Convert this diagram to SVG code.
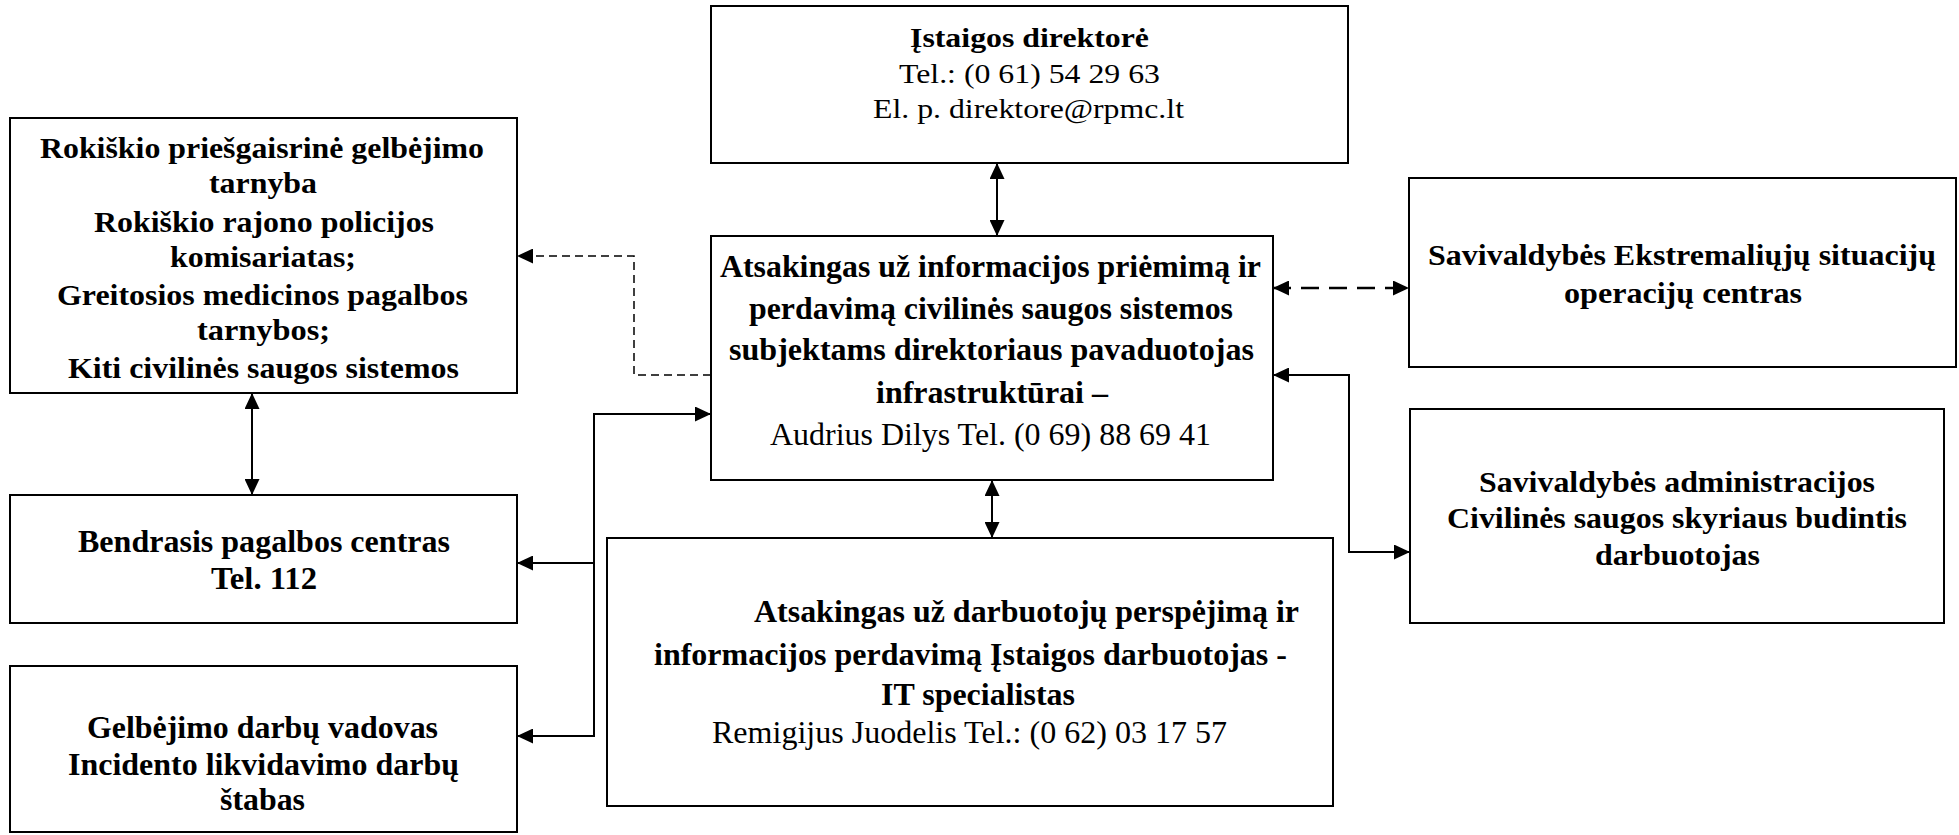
<svg xmlns="http://www.w3.org/2000/svg" width="1959" height="835" viewBox="0 0 1959 835">
<style>
.box{fill:#fff;stroke:#000;stroke-width:2}
.b{font-family:"Liberation Serif","Times New Roman",serif;font-weight:bold;fill:#000}
.r{font-family:"Liberation Serif","Times New Roman",serif;font-weight:normal;fill:#000}
.f24{font-size:28px}
.f26{font-size:30px}
.f27{font-size:31px}
.c{fill:none;stroke:#000;stroke-width:2}
.d1{fill:none;stroke:#000;stroke-width:1.5;stroke-dasharray:8 5}
.d2{fill:none;stroke:#000;stroke-width:2.5;stroke-dasharray:18 10}
</style>
<defs>
<marker id="ah" viewBox="0 0 10 10" refX="10" refY="5" markerUnits="userSpaceOnUse" markerWidth="16" markerHeight="15" preserveAspectRatio="none" orient="auto-start-reverse">
<path d="M0,0 L10,5 L0,10 z" fill="#000"/>
</marker>
</defs>

<g id="connectors">
<line class="c" x1="997" y1="163" x2="997" y2="236" marker-start="url(#ah)" marker-end="url(#ah)"/>
<line class="c" x1="992" y1="480" x2="992" y2="538" marker-start="url(#ah)" marker-end="url(#ah)"/>
<line class="c" x1="252" y1="393" x2="252" y2="495" marker-start="url(#ah)" marker-end="url(#ah)"/>
<path class="d1" d="M711,375 H634 V256 H517" marker-end="url(#ah)"/>
<path class="c" d="M594,414 H711" marker-end="url(#ah)"/>
<line class="c" x1="594" y1="413" x2="594" y2="737"/>
<path class="c" d="M594,563 H517" marker-end="url(#ah)"/>
<path class="c" d="M594,736 H517" marker-end="url(#ah)"/>
<line class="d2" x1="1273" y1="288" x2="1409" y2="288" marker-start="url(#ah)" marker-end="url(#ah)"/>
<path class="c" d="M1273,375 H1349 V552 H1410" marker-start="url(#ah)" marker-end="url(#ah)"/>
</g>

<g id="director">
<rect class="box" x="711" y="6" width="637" height="157"/>
<text class="b f24" x="910" y="47" textLength="239" lengthAdjust="spacingAndGlyphs">Įstaigos direktorė</text>
<text class="r f24" x="899" y="83" textLength="261" lengthAdjust="spacingAndGlyphs">Tel.: (0 61) 54 29 63</text>
<text class="r f24" x="873" y="118" textLength="311" lengthAdjust="spacingAndGlyphs">El. p. direktore@rpmc.lt</text>
</g>

<g id="responsible-center">
<rect class="box" x="711" y="236" width="562" height="244"/>
<text class="b f27" x="720" y="277" textLength="541" lengthAdjust="spacingAndGlyphs">Atsakingas už informacijos priėmimą ir</text>
<text class="b f27" x="749" y="319" textLength="484" lengthAdjust="spacingAndGlyphs">perdavimą civilinės saugos sistemos</text>
<text class="b f27" x="729" y="360" textLength="525" lengthAdjust="spacingAndGlyphs">subjektams direktoriaus pavaduotojas</text>
<text class="b f27" x="876" y="403" textLength="232" lengthAdjust="spacingAndGlyphs">infrastruktūrai –</text>
<text class="r f27" x="770" y="445" textLength="441" lengthAdjust="spacingAndGlyphs">Audrius Dilys Tel. (0 69) 88 69 41</text>
</g>

<g id="rescue-services">
<rect class="box" x="10" y="118" width="507" height="275"/>
<text class="b f26" x="40" y="158" textLength="444" lengthAdjust="spacingAndGlyphs">Rokiškio priešgaisrinė gelbėjimo</text>
<text class="b f26" x="209" y="193" textLength="108" lengthAdjust="spacingAndGlyphs">tarnyba</text>
<text class="b f26" x="94" y="232" textLength="340" lengthAdjust="spacingAndGlyphs">Rokiškio rajono policijos</text>
<text class="b f26" x="170" y="267" textLength="186" lengthAdjust="spacingAndGlyphs">komisariatas;</text>
<text class="b f26" x="57" y="305" textLength="411" lengthAdjust="spacingAndGlyphs">Greitosios medicinos pagalbos</text>
<text class="b f26" x="197" y="340" textLength="133" lengthAdjust="spacingAndGlyphs">tarnybos;</text>
<text class="b f26" x="68" y="378" textLength="391" lengthAdjust="spacingAndGlyphs">Kiti civilinės saugos sistemos</text>
</g>

<g id="bpc">
<rect class="box" x="10" y="495" width="507" height="128"/>
<text class="b f27" x="78" y="552" textLength="372" lengthAdjust="spacingAndGlyphs">Bendrasis pagalbos centras</text>
<text class="b f27" x="211" y="589" textLength="106" lengthAdjust="spacingAndGlyphs">Tel. 112</text>
</g>

<g id="rescue-leader">
<rect class="box" x="10" y="666" width="507" height="166"/>
<text class="b f27" x="87" y="738" textLength="351" lengthAdjust="spacingAndGlyphs">Gelbėjimo darbų vadovas</text>
<text class="b f27" x="68" y="775" textLength="391" lengthAdjust="spacingAndGlyphs">Incidento likvidavimo darbų</text>
<text class="b f27" x="220" y="810" textLength="85" lengthAdjust="spacingAndGlyphs">štabas</text>
</g>

<g id="it-specialist">
<rect class="box" x="607" y="538" width="726" height="268"/>
<text class="b f27" x="754" y="622" textLength="545" lengthAdjust="spacingAndGlyphs">Atsakingas už darbuotojų perspėjimą ir</text>
<text class="b f27" x="654" y="665" textLength="633" lengthAdjust="spacingAndGlyphs">informacijos perdavimą Įstaigos darbuotojas -</text>
<text class="b f27" x="881" y="705" textLength="194" lengthAdjust="spacingAndGlyphs">IT specialistas</text>
<text class="r f27" x="712" y="743" textLength="515" lengthAdjust="spacingAndGlyphs">Remigijus Juodelis Tel.: (0 62) 03 17 57</text>
</g>

<g id="esoc">
<rect class="box" x="1409" y="178" width="547" height="189"/>
<text class="b f26" x="1428" y="265" textLength="508" lengthAdjust="spacingAndGlyphs">Savivaldybės Ekstremaliųjų situacijų</text>
<text class="b f26" x="1564" y="303" textLength="238" lengthAdjust="spacingAndGlyphs">operacijų centras</text>
</g>

<g id="civil-protection">
<rect class="box" x="1410" y="409" width="534" height="214"/>
<text class="b f26" x="1479" y="492" textLength="396" lengthAdjust="spacingAndGlyphs">Savivaldybės administracijos</text>
<text class="b f26" x="1447" y="528" textLength="460" lengthAdjust="spacingAndGlyphs">Civilinės saugos skyriaus budintis</text>
<text class="b f26" x="1595" y="565" textLength="165" lengthAdjust="spacingAndGlyphs">darbuotojas</text>
</g>
</svg>
